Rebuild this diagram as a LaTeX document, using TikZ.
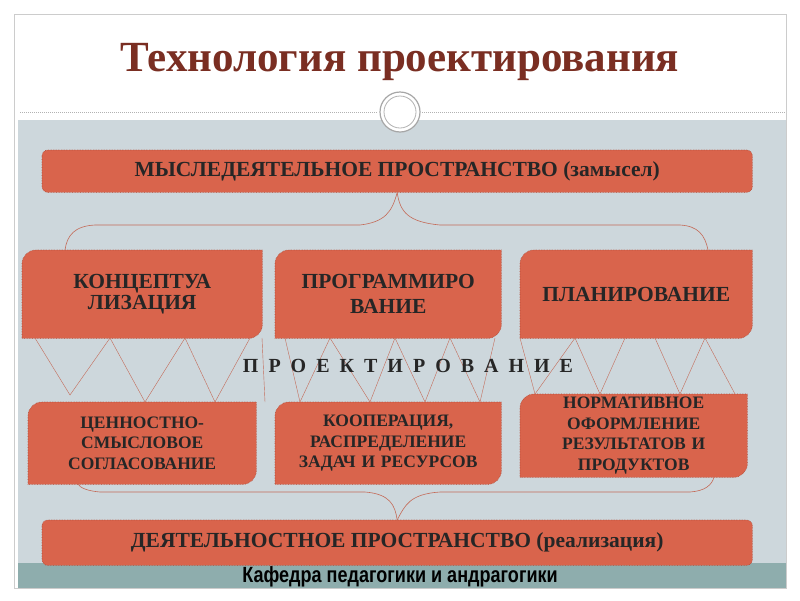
\documentclass[tikz,border=0pt]{standalone}
\usepackage{fontspec}
\setmainfont{Liberation Serif}
\newfontfamily\bfont{Liberation Serif}
\newfontfamily\ffont[FakeStretch=0.82]{Liberation Sans}
\pgfdeclarelayer{back}\pgfdeclarelayer{mid}\pgfsetlayers{back,mid,main}
\definecolor{boxc}{HTML}{D9644C}
\definecolor{boxe}{HTML}{B04A36}
\definecolor{bgc}{HTML}{CDD7DC}
\definecolor{teal}{HTML}{8EADAD}
\definecolor{titlec}{HTML}{7A2E22}
\definecolor{linec}{HTML}{C46A58}
\tikzset{
  tbox/.style={anchor=north west,inner sep=2pt,align=center,font=\bfont\bfseries\fontsize{21.5}{25}\selectfont,text=black!85},
  sbox/.style={anchor=north west,inner sep=2pt,align=center,font=\bfont\bfseries\fontsize{17.5}{20.5}\selectfont,text=black!85},
  shp/.style={fill=boxc,draw=boxe,densely dotted,line width=0.6pt},
  conn/.style={draw=linec,line width=0.6pt}
}
\newcommand\leafshape[1]{\filldraw[shp] (#1.west) [rounded corners=14pt] |- (#1.north) [sharp corners] -| (#1.east) [rounded corners=14pt] |- (#1.south) [sharp corners] -| (#1.west) -- cycle;}
\begin{document}
\begin{tikzpicture}[x=1pt,y=-1pt]
\useasboundingbox (0,0) rectangle (800,600);
\begin{pgfonlayer}{back}
\fill[white] (0,0) rectangle (800,600);
\fill[bgc] (18,120) rectangle (786,565);
\fill[teal] (18,563) rectangle (786,588);
\draw[gray!40] (14,14) rectangle (786,588);
\draw[gray!60,densely dotted,line width=1pt] (20,112) -- (378,112) (422,112) -- (786,112);
\end{pgfonlayer}
\node[circle,draw=gray!70,line width=1.2pt,fill=white,minimum size=40pt] (circ) at (400,112) {};
\node[circle,draw=gray!60,line width=0.8pt,minimum size=32pt] (circi) at (400,112) {};
\node[font=\bfseries\fontsize{43}{48}\selectfont,text=titlec] (title) at (400,62) {Технология проектирования};

\node[tbox,minimum width=710pt,minimum height=42pt] (top) at (42,150) {МЫСЛЕДЕЯТЕЛЬНОЕ ПРОСТРАНСТВО (замысел)};
\node[tbox,minimum width=240pt,minimum height=88pt,text width=220pt] (a1) at (22,250) {\raisebox{-4pt}{КОНЦЕПТУА}\\ЛИЗАЦИЯ};
\node[tbox,minimum width=226pt,minimum height=88pt,text width=220pt] (a2) at (275,250) {ПРОГРАММИРО\\ВАНИЕ\\[12pt]};
\node[tbox,minimum width=232pt,minimum height=88pt,text width=226pt] (a3) at (520,250) {ПЛАНИРОВАНИЕ\\[18pt]};
\node[font=\bfont\bfseries\fontsize{20}{24}\selectfont,text=black!85] (proj) at (408,366) {П\ \ Р\ \ О\ \ Е\ \ К\ \ Т\ \ И\ \ Р\ \ О\ \ В\ \ А\ \ Н\ \ И\ \ Е};
\node[sbox,minimum width=228pt,minimum height=82pt,text width=220pt] (b1) at (28,402) {ЦЕННОСТНО-\\СМЫСЛОВОЕ\\СОГЛАСОВАНИЕ};
\node[sbox,minimum width=226pt,minimum height=82pt,text width=220pt] (b2) at (275,402) {КООПЕРАЦИЯ,\\РАСПРЕДЕЛЕНИЕ\\ЗАДАЧ И РЕСУРСОВ\\[6pt]};
\node[sbox,minimum width=227pt,minimum height=83pt,text width=220pt] (b3) at (520,394) {НОРМАТИВНОЕ\\ОФОРМЛЕНИЕ\\РЕЗУЛЬТАТОВ И\\ПРОДУКТОВ};
\node[tbox,minimum width=710pt,minimum height=45pt] (bot) at (42,520) {ДЕЯТЕЛЬНОСТНОЕ ПРОСТРАНСТВО (реализация)};
\node[font=\ffont\bfseries\fontsize{22}{26}\selectfont] (foot) at (400,577) {Кафедра педагогики и андрагогики};

\begin{pgfonlayer}{mid}
\filldraw[shp,rounded corners=6pt] (top.north west) rectangle (top.south east);
\filldraw[shp,rounded corners=6pt] (bot.north west) rectangle (bot.south east);
\leafshape{a1}\leafshape{a2}\leafshape{a3}
\leafshape{b1}\leafshape{b2}\leafshape{b3}
\coordinate (tl) at (65,250); \coordinate (tr) at (708,250);
\draw[conn] (top.south) .. controls (392,212) and (385,222) .. (360,225) -- (95,225) .. controls (75,226) and (67,235) .. (tl);
\draw[conn] (top.south) .. controls (400,212) and (408,222) .. (440,225) -- (680,225) .. controls (698,226) and (705,235) .. (tr);
\coordinate (bl) at (78,484); \coordinate (br) at (714,477);
\draw[conn] (bot.north) .. controls (395,505) and (390,494) .. (365,492) -- (100,492) .. controls (88,491) and (80,488) .. (bl);
\draw[conn] (bot.north) .. controls (405,505) and (410,494) .. (440,492) -- (690,492) .. controls (705,491) and (712,485) .. (br);
\draw[conn,line width=0.4pt]
 (35,338) -- (70,395) -- (110,338) -- (145,402) -- (185,338) -- (215,402) -- (250,338)
 (262,338) -- (265,402)
 (285,338) -- (300,402) -- (330,338) -- (370,402) -- (395,338) -- (425,402) -- (450,338) -- (480,402) -- (495,338)
 (520,338) -- (535,394) -- (575,338) -- (600,394) -- (625,338)
 (655,338) -- (680,394) -- (705,338) -- (735,394);
\end{pgfonlayer}
\end{tikzpicture}
\end{document}
